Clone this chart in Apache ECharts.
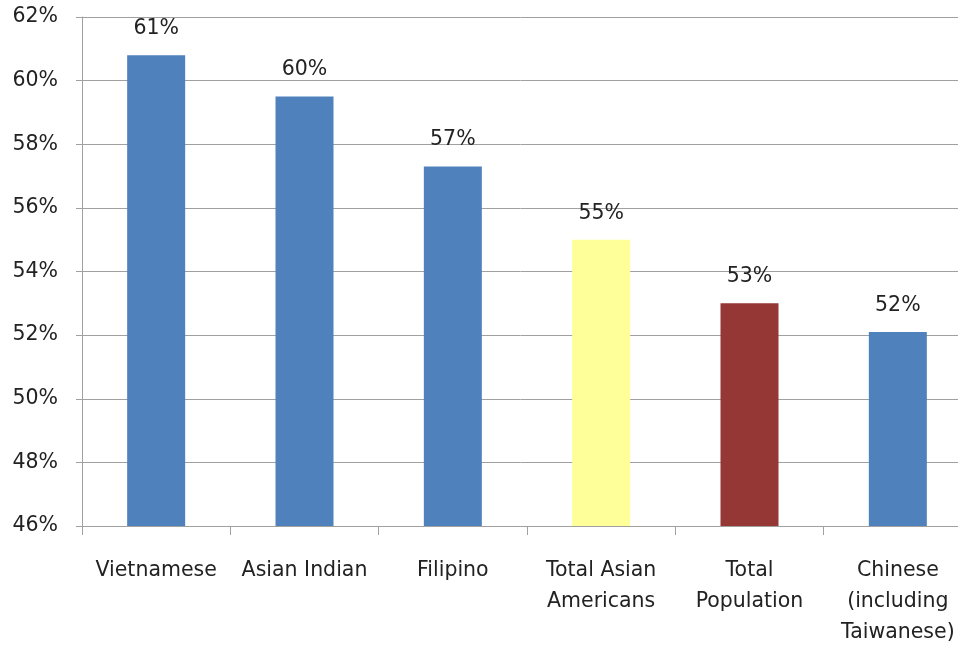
<!DOCTYPE html>
<html>
<head>
<meta charset="utf-8">
<script src="https://cdn.jsdelivr.net/npm/echarts@6/dist/echarts.min.js"></script>
<style>html,body{margin:0;padding:0;background:#fff}#c{width:958px;height:647px}</style>
</head>
<body>
<div id="c"></div>
<script>
const categories = ["Vietnamese", "Asian Indian", "Filipino", "Total Asian\nAmericans", "Total\nPopulation", "Chinese\n(including\nTaiwanese)"];
const values = [60.8, 59.5, 57.3, 55.0, 53.0, 52.1];
const valueLabels = ["61%", "60%", "57%", "55%", "53%", "52%"];
const barColors = ["#4F81BD", "#4F81BD", "#4F81BD", "#FFFF99", "#953735", "#4F81BD"];
const yTicks = [46, 48, 50, 52, 54, 56, 58, 60, 62];

const chart = echarts.init(document.getElementById('c'));
const font = '"DejaVu Sans", sans-serif';
chart.setOption({
  animation: false,
  grid: {left: 82, right: -14, top: 17, bottom: 121, outerBoundsMode: 'none', containLabel: false},
  xAxis: {
    type: 'category',
    data: categories,
    axisLine: {lineStyle: {color: '#A0A0A0', width: 1}},
    axisTick: {show: true, length: 9, lineStyle: {color: '#A0A0A0'}},
    axisLabel: {color: '#222', fontSize: 20.5, fontFamily: font, margin: 29, lineHeight: 31, interval: 0}
  },
  yAxis: {
    type: 'value',
    min: yTicks[0], max: yTicks[yTicks.length - 1], interval: 2,
    axisLine: {show: true, lineStyle: {color: '#A0A0A0'}},
    axisTick: {show: true, length: 6, lineStyle: {color: '#A0A0A0'}},
    splitLine: {lineStyle: {color: '#A0A0A0', width: 1}},
    axisLabel: {color: '#222', fontSize: 20.5, fontFamily: font, margin: 24, formatter: v => v + '%'}
  },
  series: [{
    type: 'bar',
    barWidth: 58,
    data: values.map((v, i) => ({value: v, itemStyle: {color: barColors[i]}})),
    label: {
      show: true, position: 'top', distance: 16,
      color: '#222', fontSize: 20.5, fontFamily: font,
      formatter: p => valueLabels[p.dataIndex]
    }
  }]
});
</script>
</body>
</html>
